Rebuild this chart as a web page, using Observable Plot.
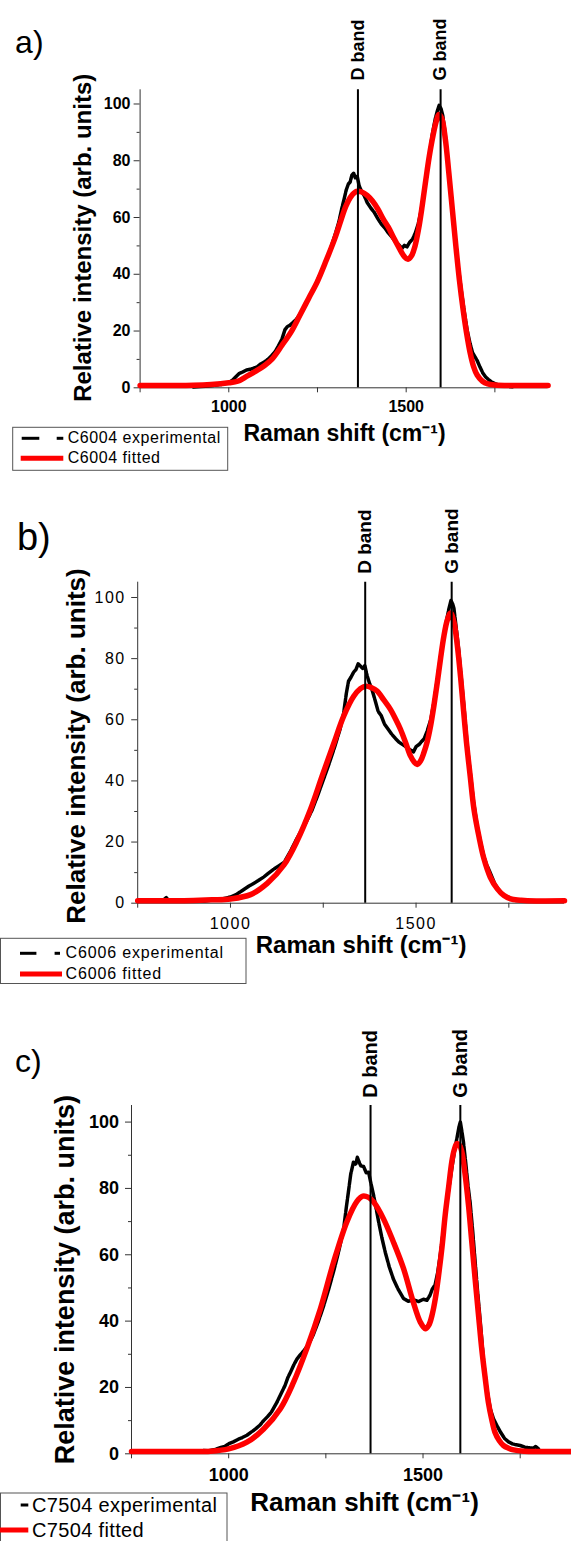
<!DOCTYPE html>
<html><head><meta charset="utf-8">
<script src="https://cdn.jsdelivr.net/npm/d3@7"></script>
<script src="https://cdn.jsdelivr.net/npm/@observablehq/plot@0.6"></script>
<style>
html,body{margin:0;padding:0;background:#fff;overflow:hidden;}
#page{position:relative;width:571px;height:1541px;overflow:hidden;font-family:"Liberation Sans",Arial,Helvetica,sans-serif;}
.panel{position:absolute;left:0;}
#legend{position:absolute;left:0;top:0;}
</style></head><body><div id="page"></div>
<script>
// ---------- data ----------
const sampleNames = ["C6004", "C6006", "C7504"];
const panelLetters = ["a)", "b)", "c)"];
const xTicks = [750, 1000, 1250, 1500, 1750];
const xLabelled = [1000, 1500];
const yMajor = [0, 20, 40, 60, 80, 100];
const yMinor = [10, 30, 50, 70, 90];
const bandNames = ["D band", "G band"];
const bandsA = [1364, 1597];
const bandsB = [1363, 1596];
const bandsC = [1365, 1596];
const yTitle = "Relative intensity (arb. units)";
const xTitle = "Raman shift (cm\u207B\u00B9)";

const expA = [[900,0.3],[920,0.5],[940,0.6],[960,0.9],[980,1.2],[1000,1.9],[1010,2.6],[1020,3.9],[1030,5.1],[1040,5.6],[1050,6.3],[1060,6.5],[1070,6.9],[1080,7.4],[1090,8.4],[1100,9.1],[1110,10.0],[1120,11.2],[1130,12.6],[1140,14.8],[1150,17.2],[1158,20.4],[1165,21.6],[1172,22.0],[1180,22.9],[1190,24.1],[1200,25.8],[1210,28.0],[1220,30.2],[1230,32.8],[1240,35.1],[1250,37.9],[1260,40.6],[1270,43.4],[1280,46.7],[1290,50.2],[1300,54.1],[1310,58.3],[1318,62.9],[1325,66.5],[1331,69.7],[1337,71.8],[1342,72.5],[1347,74.9],[1352,75.6],[1357,73.9],[1362,74.5],[1367,71.4],[1374,69.2],[1382,67.6],[1390,65.3],[1400,63.4],[1410,61.8],[1420,59.6],[1430,57.7],[1440,56.3],[1450,54.5],[1460,53.1],[1470,51.4],[1480,50.3],[1488,49.1],[1495,50.2],[1502,49.6],[1510,51.3],[1518,52.4],[1526,54.6],[1534,57.8],[1542,62.4],[1550,68.3],[1558,75.2],[1566,82.6],[1574,89.5],[1582,94.8],[1588,97.6],[1593,99.5],[1598,98.4],[1603,96.0],[1609,90.4],[1615,83.0],[1622,73.6],[1630,63.2],[1638,52.7],[1646,43.4],[1655,34.6],[1664,26.5],[1672,20.2],[1680,15.6],[1687,12.4],[1694,10.9],[1700,9.6],[1708,7.3],[1716,5.2],[1724,3.8],[1732,2.9],[1740,2.1],[1750,1.5],[1760,1.0],[1775,0.7],[1790,0.5],[1800,0.4]];
const fitA = [[750,0.8],[850,0.8],[900,0.9],[950,1.2],[1000,1.8],[1025,2.3],[1050,4],[1075,5.8],[1100,7.8],[1121,10],[1150,15],[1177,20],[1200,25.5],[1225,31.5],[1250,37.5],[1275,45],[1300,53],[1316,59],[1330,64],[1345,67.5],[1360,69.2],[1375,69],[1390,67.8],[1405,65.8],[1420,63],[1435,59.5],[1450,56.5],[1465,52.8],[1480,49.3],[1495,46.2],[1505,45.3],[1515,46.5],[1525,50],[1535,56],[1545,64],[1555,73],[1565,81.5],[1575,88.5],[1585,94],[1592,96.3],[1600,95],[1610,88],[1620,76],[1630,63],[1640,50],[1650,38],[1660,28],[1670,19.5],[1680,12.5],[1690,7.5],[1700,4.5],[1715,2.3],[1730,1.4],[1750,1],[1800,0.8],[1900,0.8]];

const expB = [[750,0.8],[780,1.0],[800,0.6],[820,1.1],[827,1.8],[835,0.7],[870,0.6],[900,0.8],[930,0.7],[960,1.2],[980,1.5],[1000,2.0],[1015,2.8],[1030,4.0],[1040,4.8],[1050,5.6],[1060,6.3],[1075,7.4],[1090,8.6],[1100,9.6],[1115,11.0],[1130,12.2],[1145,13.4],[1160,16.6],[1175,20.2],[1190,23.6],[1205,26.8],[1220,30.5],[1235,35.3],[1250,40.3],[1265,45.4],[1280,50.9],[1295,56.8],[1305,62.2],[1312,68.5],[1318,72.6],[1325,74.0],[1332,75.6],[1338,76.4],[1344,78.3],[1350,77.6],[1356,76.8],[1362,77.7],[1368,74.5],[1375,71.8],[1382,69.6],[1390,66.2],[1398,62.7],[1406,61.4],[1415,58.6],[1425,56.9],[1435,55.2],[1445,53.8],[1455,52.6],[1465,51.8],[1475,51.0],[1485,50.1],[1493,49.5],[1500,51.2],[1508,51.9],[1515,52.9],[1522,53.8],[1530,56.3],[1540,60.2],[1550,67.0],[1560,75.6],[1570,84.0],[1580,91.2],[1588,96.0],[1594,99.0],[1598,98.1],[1602,96.5],[1608,90.3],[1615,82.8],[1622,73.5],[1630,63.0],[1638,51.5],[1646,42.8],[1655,33.1],[1665,25.0],[1675,19.2],[1683,15.1],[1690,12.6],[1697,10.8],[1705,8.4],[1713,6.1],[1720,4.9],[1730,3.2],[1740,2.4],[1750,1.9],[1760,1.2],[1770,0.9],[1800,0.7]];
const fitB = [[750,0.8],[850,0.8],[900,0.9],[950,1.1],[1000,1.4],[1054,2.8],[1099,6.5],[1144,12.5],[1180,20.5],[1216,30.8],[1247,41.6],[1279,52.5],[1305,61.2],[1332,67.7],[1350,70.2],[1364,71],[1380,70.5],[1395,69.4],[1413,66.5],[1431,63.4],[1445,60.2],[1458,56.9],[1472,52.5],[1485,48.2],[1495,46.2],[1503,45.4],[1512,46.5],[1521,49.2],[1530,52.8],[1539,57.9],[1548,64.5],[1557,72],[1566,80],[1575,87.3],[1584,92.5],[1593,94.9],[1602,92],[1611,84.5],[1620,74],[1628,63],[1636,52.5],[1646,41.5],[1656,30.8],[1670,21.5],[1683,14.5],[1700,8.5],[1719,4.7],[1737,2.5],[1755,1.4],[1780,1],[1800,0.8],[1900,0.8]];

const expC = [[935,1.0],[950,0.9],[965,1.3],[980,1.9],[990,2.2],[1000,3.0],[1012,3.6],[1025,4.4],[1035,4.9],[1047,5.6],[1060,6.7],[1070,7.6],[1080,8.6],[1090,10.0],[1100,11.2],[1110,12.6],[1124,15.5],[1135,18.2],[1145,20.6],[1152,22.9],[1159,24.6],[1168,26.9],[1176,28.6],[1184,29.8],[1193,31.0],[1205,32.9],[1218,36.0],[1231,40.0],[1244,44.5],[1257,49.5],[1270,55.0],[1283,61.0],[1296,68.0],[1303,74.6],[1308,78.9],[1314,84.3],[1321,87.9],[1327,87.2],[1331,89.4],[1335,88.1],[1340,86.8],[1347,86.6],[1354,84.7],[1360,84.9],[1366,81.5],[1373,77.8],[1380,73.6],[1386,69.8],[1394,65.2],[1403,60.7],[1413,56.4],[1424,52.6],[1437,49.4],[1450,46.8],[1462,46.0],[1476,46.4],[1488,45.9],[1501,46.6],[1510,46.3],[1518,47.8],[1524,49.7],[1531,50.9],[1538,54.8],[1545,60.5],[1553,67.9],[1560,74.6],[1567,80.5],[1574,86.0],[1581,91.3],[1588,95.6],[1593,98.8],[1596,100.0],[1600,97.2],[1604,94.0],[1610,87.5],[1616,80.6],[1621,75.9],[1628,66.8],[1634,58.0],[1640,49.4],[1647,40.2],[1656,27.6],[1664,19.6],[1673,13.6],[1681,10.6],[1690,8.5],[1700,6.4],[1710,4.6],[1720,3.6],[1730,3.0],[1740,2.7],[1750,2.5],[1762,2.0],[1775,1.8],[1784,1.7],[1790,2.2],[1797,1.5]];
const fitC = [[750,0.7],[900,0.7],[953,0.8],[1000,1.5],[1047,3.5],[1090,7.5],[1133,13.6],[1167,21.6],[1201,31.7],[1236,43.7],[1270,57.8],[1304,69.9],[1330,76.1],[1345,77.7],[1360,77.3],[1373,75.9],[1398,70.9],[1424,63.8],[1450,55.8],[1475,45.7],[1493,39.7],[1506,37.7],[1515,38.8],[1523,41.7],[1532,47],[1540,53.8],[1549,62.5],[1557,71.9],[1566,80.5],[1574,88],[1580,91.5],[1587,93.5],[1594,93],[1600,91],[1608,84.5],[1617,74.9],[1625,64.5],[1634,52.8],[1643,41.5],[1651,31.7],[1660,22.8],[1668,15.6],[1677,10.2],[1685,6.5],[1696,4],[1707,2.5],[1720,1.7],[1733,1.2],[1760,0.8],[1800,0.7],[1900,0.7]];

// ---------- layout ----------
const FONT = "Liberation Sans, Arial, Helvetica, sans-serif";
const panels = [
  {top:0, height:480, width:571, ml:139.6, mr:23.4, mt:89.3, mb:92.7, exp:expA, fit:fitA, bands:bandsA,
   tickFont:16, tickWeight:"bold", tickLS:0, xPad:8, yPad:3.6,
   letterFont:32, letterDx:-125, letterDy:-37.3,
   yTitleFont:24, yTitleDx:-56.8, yTitleDy:-1,
   xTitleFont:23, xTitleDx:0.4, xTitleDy:53.4,
   bandFont:18, bandDy:-9.3},
  {top:480, height:530, width:571, ml:137.2, mr:7, mt:101.7, mb:107.3, exp:expB, fit:fitB, bands:bandsB,
   tickFont:16, tickWeight:"normal", tickLS:1.5, xPad:9, yPad:6,
   letterFont:38, letterDx:-120.8, letterDy:-32.7,
   yTitleFont:26, yTitleDx:-60.7, yTitleDy:3.3,
   xTitleFont:24, xTitleDx:10, xTitleDy:49.6,
   bandFont:19, bandDy:-8.4},
  {top:1010, height:531, width:580, ml:131, mr:2, mt:95, mb:87.7, exp:expC, fit:fitC, bands:bandsC,
   tickFont:18, tickWeight:"bold", tickLS:0, xPad:9, yPad:6.5,
   letterFont:32, letterDx:-116.4, letterDy:-33.7,
   yTitleFont:27, yTitleDx:-66.4, yTitleDy:0,
   xTitleFont:26, xTitleDx:9.5, xTitleDy:57.4,
   bandFont:20, bandDy:-7.7}
];

const page = document.getElementById("page");

panels.forEach((p, i) => {
  const svg = Plot.plot({
    width: p.width, height: p.height,
    marginLeft: p.ml, marginRight: p.mr, marginTop: p.mt, marginBottom: p.mb,
    x: {domain: [750, 1900]},
    y: {domain: [0, 105]},
    style: {fontFamily: FONT, fontSize: p.tickFont + "px", color: "#000", background: "none", maxWidth: "none", overflow: "visible"},
    marks: [
      Plot.ruleY([0], {stroke: "#333", strokeWidth: 1}),
      Plot.ruleX([750], {stroke: "#333", strokeWidth: 1}),
      Plot.axisX({ticks: xTicks, tickSize: 5, tickPadding: p.xPad, label: null,
        tickFormat: d => xLabelled.includes(d) ? String(d) : "",
        fontSize: p.tickFont, fontWeight: p.tickWeight, stroke: "#333"}),
      Plot.axisY({ticks: yMajor, tickSize: 6, tickPadding: p.yPad, label: null,
        fontSize: p.tickFont, fontWeight: p.tickWeight, stroke: "#333"}),
      Plot.axisY({ticks: yMinor, tickSize: 3, label: null, tickFormat: () => "", stroke: "#333"}),
      Plot.line(p.exp, {x: d => d[0], y: d => d[1], stroke: "#000", strokeWidth: 3.5, strokeDasharray: "12,1.5"}),
      Plot.line(p.fit, {x: d => d[0], y: d => d[1], stroke: "#ff0000", strokeWidth: 5.5, curve: "catmull-rom"}),
      Plot.ruleX(p.bands, {x: d => d, y1: 0, y2: 105, stroke: "#000", strokeWidth: 2}),
      Plot.text(p.bands, {x: d => d, y: () => 105, text: (d, j) => bandNames[j], rotate: -90,
        textAnchor: "start", lineAnchor: "middle", dy: p.bandDy, fontSize: p.bandFont, fontWeight: "bold"}),
      Plot.text([panelLetters[i]], {frameAnchor: "top-left", text: d => d, textAnchor: "start", lineAnchor: "bottom",
        dx: p.letterDx, dy: p.letterDy, fontSize: p.letterFont, fontWeight: "normal"}),
      Plot.text([yTitle], {frameAnchor: "left", text: d => d, rotate: -90, textAnchor: "middle", lineAnchor: "middle",
        dx: p.yTitleDx, dy: p.yTitleDy, fontSize: p.yTitleFont, fontWeight: "bold"}),
      Plot.text([xTitle], {frameAnchor: "bottom", text: d => d, textAnchor: "middle", lineAnchor: "bottom",
        dx: p.xTitleDx, dy: p.xTitleDy, fontSize: p.xTitleFont, fontWeight: "bold"})
    ]
  });
  if (p.tickLS) {
    d3.select(svg).selectAll('[aria-label$="tick label"] text').style("letter-spacing", p.tickLS + "px");
  }
  svg.classList.add("panel");
  svg.style.top = p.top + "px";
  page.appendChild(svg);
});

// ---------- legends (overlay) ----------
const legends = [
  {box:[12.7,427.3,215,43], font:16, ls:0.55, textX:67.7, rows:[443.3,463.3], dashes:[[21.7,39.3],[56.7,63.3]], blackY:438.3, red:[20.7,63.3], redY:458.3},
  {box:[0.5,938.3,245.5,45.2], font:16, ls:0.85, textX:65.5, rows:[958,979], dashes:[[20,36.4],[54.6,60]], blackY:953.3, red:[20,62], redY:974},
  {box:[0.5,1493,226.5,60], font:20, ls:0.35, textX:32, rows:[1511.7,1536.7], dashes:[[20.7,28.3]], blackY:1505, red:[0,28.3], redY:1530}
];
const ns = "http://www.w3.org/2000/svg";
const ov = document.createElementNS(ns, "svg");
ov.setAttribute("id", "legend");
ov.setAttribute("width", 571);
ov.setAttribute("height", 1541);
const L = d3.select(ov);
legends.forEach((lg, i) => {
  L.append("rect").attr("x", lg.box[0]).attr("y", lg.box[1]).attr("width", lg.box[2]).attr("height", lg.box[3])
    .attr("fill", "#fff").attr("stroke", "#555").attr("stroke-width", 1);
  lg.dashes.forEach(s => L.append("line").attr("x1", s[0]).attr("x2", s[1]).attr("y1", lg.blackY).attr("y2", lg.blackY)
    .attr("stroke", "#000").attr("stroke-width", 3));
  L.append("line").attr("x1", lg.red[0]).attr("x2", lg.red[1]).attr("y1", lg.redY).attr("y2", lg.redY)
    .attr("stroke", "#ff0000").attr("stroke-width", 5);
  [sampleNames[i] + " experimental", sampleNames[i] + " fitted"].forEach((t, k) => {
    L.append("text").attr("x", lg.textX).attr("y", lg.rows[k]).text(t)
      .attr("font-family", FONT).attr("font-size", lg.font).attr("letter-spacing", lg.ls).attr("fill", "#000");
  });
});
page.appendChild(ov);
</script>
</body></html>
